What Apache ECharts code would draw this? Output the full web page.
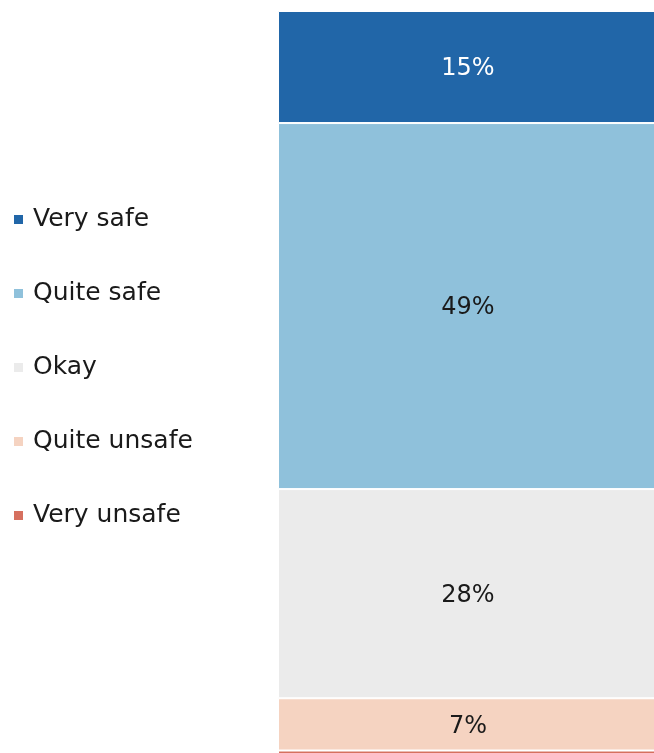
<!DOCTYPE html>
<html><head><meta charset="utf-8">
<script src="https://cdn.jsdelivr.net/npm/echarts@6/dist/echarts.min.js"></script>
<style>html,body{margin:0;padding:0;background:#fff}#c{width:654px;height:753px}</style>
</head><body><div id="c"></div>
<script>
const categories = ['All'];
const seriesNames = ['Very safe', 'Quite safe', 'Okay', 'Quite unsafe', 'Very unsafe'];
const verySafe = [15];
const quiteSafe = [49];
const okay = [28];
const quiteUnsafe = [7];
const veryUnsafe = [1];
const seriesValues = [verySafe, quiteSafe, okay, quiteUnsafe, veryUnsafe];
const colors = ['#2166a8', '#8fc1db', '#ebebeb', '#f5d3c1', '#d6705f'];
const labelColors = ['#ffffff', '#1a1a1a', '#1a1a1a', '#1a1a1a', '#1a1a1a'];
const FONT = 'DejaVu Sans';

const chart = echarts.init(document.getElementById('c'));
chart.setOption({
  animation: false,
  grid: { left: 278, top: 11, width: 380, height: 747, outerBoundsMode: 'none', containLabel: false },
  legend: {
    orient: 'vertical', left: 12, top: 207, padding: 0,
    itemWidth: 11, itemHeight: 11, itemGap: 49, icon: 'rect',
    textStyle: { fontFamily: FONT, fontSize: 25, color: '#1a1a1a', lineHeight: 24, padding: [0,0,0,4] },
    data: seriesNames
  },
  xAxis: { type: 'category', data: categories, show: false },
  yAxis: { type: 'value', min: 0, max: 100, inverse: true, show: false },
  series: seriesNames.map((n, i) => ({
    name: n, type: 'bar', stack: 'all', data: seriesValues[i],
    barWidth: 380,
    itemStyle: { color: colors[i], borderColor: '#ffffff', borderWidth: 1 },
    label: { show: seriesValues[i][0] >= 2, position: 'inside', offset: [0, 2], formatter: '{c}%', fontFamily: FONT, fontSize: 24, color: labelColors[i] }
  }))
});
</script></body></html>
